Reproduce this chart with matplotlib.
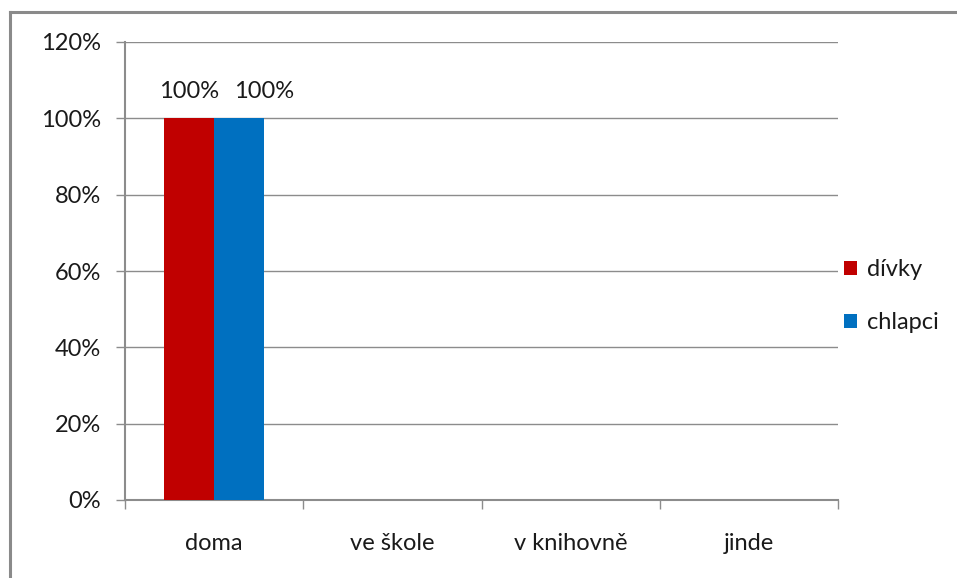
import matplotlib
matplotlib.use('Agg', force=True)

import numpy as np
import matplotlib.pyplot as plt
from matplotlib.lines import Line2D

plt.rcParams['font.family'] = ['Lato', 'DejaVu Sans']

# ---------- data ----------
categories = ['doma', 've škole', 'v knihovně', 'jinde']
divky = [100, 0, 0, 0]
chlapci = [100, 0, 0, 0]
series_names = ['dívky', 'chlapci']
y_ticks = [0, 20, 40, 60, 80, 100, 120]

red = '#C00000'
blue = '#0070C0'
grey = '#8c8c8c'
txt = '#1a1a1a'
fs = 17

W, H = 957, 578
fig = plt.figure(figsize=(W / 100, H / 100), dpi=100)
ax = fig.add_axes([125 / W, 1 - 500 / H, (838 - 125) / W, (500 - 42) / H])

x = np.arange(len(categories))
bw = 0.28
b1 = ax.bar(x - bw / 2, divky, bw, color=red, label=series_names[0], zorder=3)
b2 = ax.bar(x + bw / 2, chlapci, bw, color=blue, label=series_names[1], zorder=3)

# value labels only over non-empty bars; the second one is nudged right so
# the two labels don't run into each other
for bars, vals, dx in ((b1, divky, 0), (b2, chlapci, 18)):
    for rect, v in zip(bars, vals):
        if v > 0:
            ax.annotate(f'{v}%', (rect.get_x() + rect.get_width() / 2, v),
                        xytext=(dx, 12), textcoords='offset points',
                        ha='center', va='bottom', fontsize=fs, color=txt)

ax.set_xlim(-0.5, len(categories) - 0.5)
ax.set_ylim(0, 120)
ax.set_yticks(y_ticks)
ax.set_yticklabels([f'{t}%' for t in y_ticks])
ax.yaxis.grid(True, color=grey, linewidth=1, zorder=0)

# category boundaries carry the tick marks, names sit in the middle
ax.set_xticks(np.arange(len(categories) + 1) - 0.5)
ax.set_xticklabels([])
ax.set_xticks(x, minor=True)
ax.set_xticklabels(categories, minor=True)
ax.tick_params(axis='x', which='major', length=6.5, color=grey, width=1)
ax.tick_params(axis='x', which='minor', length=0, pad=24, labelsize=fs,
               labelcolor=txt)
ax.tick_params(axis='y', length=6.5, color=grey, width=1, pad=11,
               labelsize=fs, labelcolor=txt)

for s in ('top', 'right'):
    ax.spines[s].set_visible(False)
for s in ('left', 'bottom'):
    ax.spines[s].set_color(grey)
    ax.spines[s].set_linewidth(1.5)

ax.legend(loc='center left', bbox_to_anchor=(0.985, 0.445), frameon=False,
          fontsize=fs, handlelength=0.55, handleheight=0.55,
          handletextpad=0.45, labelspacing=1.35, borderaxespad=0.3,
          labelcolor=txt)

# outer frame: only left and top edges show
fig.add_artist(Line2D([9.5 / W, 9.5 / W], [0, 1 - 11.5 / H],
                      transform=fig.transFigure, color='#8a8a8a', linewidth=2.2))
fig.add_artist(Line2D([9.5 / W, 1], [1 - 11.5 / H, 1 - 11.5 / H],
                      transform=fig.transFigure, color='#8a8a8a', linewidth=2.2))

fig.savefig('out.png', dpi=100)
